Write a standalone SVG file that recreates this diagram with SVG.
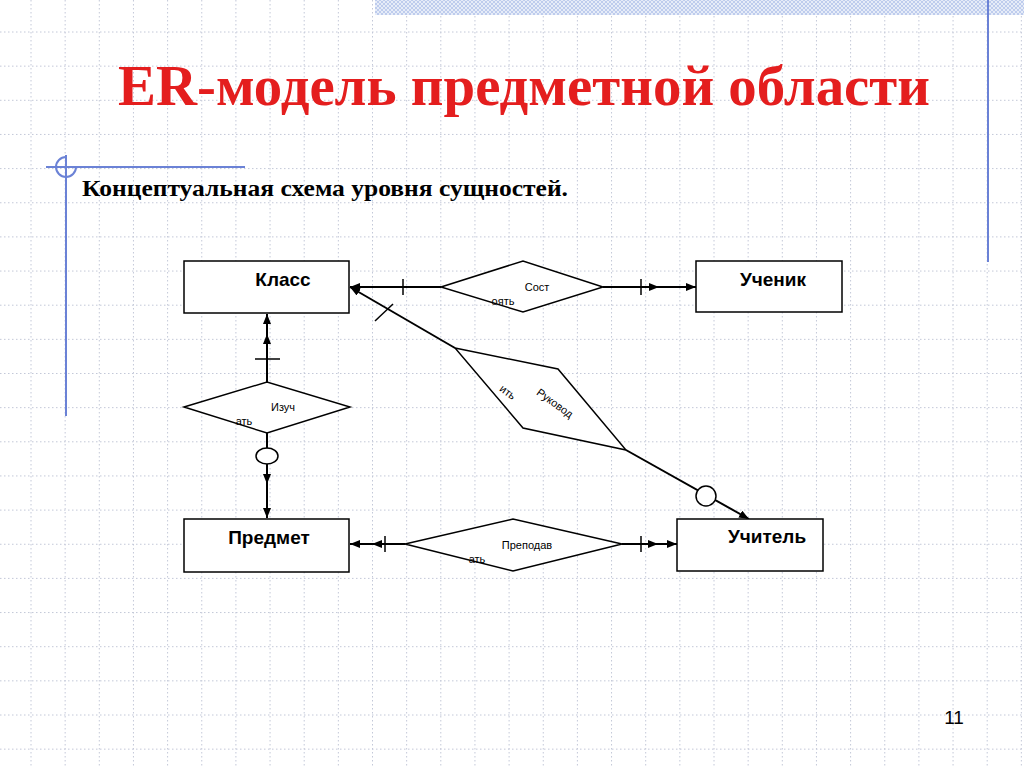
<svg xmlns="http://www.w3.org/2000/svg" width="1024" height="767" viewBox="0 0 1024 767">
<defs>
<style>
.grid{stroke:#c3c8d8;stroke-width:1;stroke-dasharray:1.5 2.5;fill:none}
.deco{stroke:#6b82d6;stroke-width:2;fill:none}
.box{fill:#fff;stroke:#000;stroke-width:1.5}
.rel{fill:#fff;stroke:#000;stroke-width:1.5}
.ln{stroke:#000;stroke-width:2;fill:none}
.tk{stroke:#000;stroke-width:1.5;fill:none}
.ent{font-family:"Liberation Sans",Arial,sans-serif;font-weight:bold;font-size:19px;fill:#000;text-anchor:middle}
.rt{font-family:"Liberation Sans",Arial,sans-serif;font-size:11px;fill:#000;text-anchor:middle}
</style>
<marker id="arr" markerWidth="10" markerHeight="8" refX="10" refY="4" orient="auto" markerUnits="userSpaceOnUse">
<path d="M0,0 L10,4 L0,8 z" fill="#000"/>
</marker>
<pattern id="hatch" width="4" height="4" patternUnits="userSpaceOnUse">
<rect width="4" height="4" fill="#e6ecf8"/>
<path d="M0,0 L4,4 M4,0 L0,4" stroke="#b4c4ea" stroke-width="0.8"/>
</pattern>
</defs>
<rect width="1024" height="767" fill="#fff"/>
<g id="grid">
<path class="grid" d="M31 0V767M65.15 0V767M99.3 0V767M133.45 0V767M167.6 0V767M201.75 0V767M235.9 0V767M270.05 0V767M304.2 0V767M338.35 0V767M372.5 0V767M406.65 0V767M440.8 0V767M474.95 0V767M509.1 0V767M543.25 0V767M577.4 0V767M611.55 0V767M645.7 0V767M679.85 0V767M714 0V767M748.15 0V767M782.3 0V767M816.45 0V767M850.6 0V767M884.75 0V767M918.9 0V767M953.05 0V767M987.2 0V767M1021.35 0V767"/>
<path class="grid" d="M0 32H1024M0 66.15H1024M0 100.3H1024M0 134.45H1024M0 168.6H1024M0 202.75H1024M0 236.9H1024M0 271.05H1024M0 305.2H1024M0 339.35H1024M0 373.5H1024M0 407.65H1024M0 441.8H1024M0 475.95H1024M0 510.1H1024M0 544.25H1024M0 578.4H1024M0 612.55H1024M0 646.7H1024M0 680.85H1024M0 715H1024M0 749.15H1024"/>
</g>
<g id="decoration">
<rect x="375" y="0" width="649" height="15" fill="url(#hatch)"/>
<line class="deco" x1="988" y1="0" x2="988" y2="262"/>
<line class="deco" x1="46" y1="167" x2="245" y2="167"/>
<line class="deco" x1="66" y1="155" x2="66" y2="416"/>
<path class="deco" d="M66,157 A10,10 0 1 0 76,167" stroke-width="1.5"/>
</g>
<g id="title">
<text x="118" y="105" font-family="'Liberation Serif','Times New Roman',serif" font-weight="bold" font-size="57" fill="#e41e1e" textLength="812" lengthAdjust="spacingAndGlyphs">ER-модель предметной области</text>
<text x="82" y="196" font-family="'Liberation Serif','Times New Roman',serif" font-weight="bold" font-size="23" fill="#000" textLength="486" lengthAdjust="spacingAndGlyphs">Концептуальная схема уровня сущностей.</text>
</g>
<g id="connectors">
<line class="ln" x1="441" y1="287" x2="350" y2="287" marker-end="url(#arr)"/>
<line class="tk" x1="403" y1="279" x2="403" y2="295"/>
<line class="ln" x1="603" y1="287" x2="696" y2="287" marker-end="url(#arr)"/>
<line class="ln" x1="603" y1="287" x2="659" y2="287" marker-end="url(#arr)"/>
<line class="tk" x1="641" y1="279" x2="641" y2="295"/>
<line class="ln" x1="267" y1="382" x2="267" y2="314" marker-end="url(#arr)"/>
<line class="ln" x1="267" y1="382" x2="267" y2="334" marker-end="url(#arr)"/>
<line class="tk" x1="255" y1="359" x2="280" y2="359"/>
<line class="ln" x1="267" y1="433" x2="267" y2="518" marker-end="url(#arr)"/>
<line class="ln" x1="267" y1="433" x2="267" y2="484" marker-end="url(#arr)"/>
<ellipse cx="267" cy="456" rx="11" ry="8" fill="#fff" stroke="#000" stroke-width="1.5"/>
<line class="ln" x1="405" y1="544" x2="350" y2="544" marker-end="url(#arr)"/>
<line class="ln" x1="405" y1="544" x2="372" y2="544" marker-end="url(#arr)"/>
<line class="tk" x1="385" y1="536" x2="385" y2="552"/>
<line class="ln" x1="622" y1="544" x2="677" y2="544" marker-end="url(#arr)"/>
<line class="ln" x1="622" y1="544" x2="658" y2="544" marker-end="url(#arr)"/>
<line class="tk" x1="641" y1="536" x2="641" y2="552"/>
<line class="ln" x1="455" y1="348" x2="350" y2="287" marker-end="url(#arr)"/>
<line class="tk" x1="375" y1="321" x2="393" y2="304"/>
<line class="ln" x1="626" y1="450" x2="749" y2="519" marker-end="url(#arr)"/>
<circle cx="706" cy="496" r="10" fill="#fff" stroke="#000" stroke-width="1.5"/>
</g>
<g id="klass">
<rect class="box" x="184" y="261" width="165" height="52"/>
<text class="ent" x="283" y="286">Класс</text>
</g>
<g id="uchenik">
<rect class="box" x="696" y="261" width="146" height="51"/>
<text class="ent" x="773" y="286">Ученик</text>
</g>
<g id="predmet">
<rect class="box" x="184" y="519" width="165" height="53"/>
<text class="ent" x="269" y="544">Предмет</text>
</g>
<g id="uchitel">
<rect class="box" x="677" y="519" width="146" height="52"/>
<text class="ent" x="767" y="543">Учитель</text>
</g>
<g id="sostoyat">
<polygon class="rel" points="441,287 523,261 603,287 523,312"/>
<text class="rt" x="537" y="291">Сост</text>
<text class="rt" x="503" y="305">оять</text>
</g>
<g id="izuchat">
<polygon class="rel" points="184,407 267,382 350,407 267,433"/>
<text class="rt" x="283" y="411">Изуч</text>
<text class="rt" x="244" y="425">ать</text>
</g>
<g id="prepodavat">
<polygon class="rel" points="405,544 513,519 622,544 513,571"/>
<text class="rt" x="527" y="549">Преподав</text>
<text class="rt" x="477" y="563">ать</text>
</g>
<g id="rukovodit">
<polygon class="rel" points="455,348 558,369 626,450 523,428"/>
<text class="rt" transform="translate(555,403) rotate(36)" y="4">Руковод</text>
<text class="rt" transform="translate(508,392) rotate(36)" y="4">ить</text>
</g>
<text x="954" y="724" font-family="'Liberation Sans',Arial,sans-serif" font-size="19" fill="#000" text-anchor="middle">11</text>
</svg>
